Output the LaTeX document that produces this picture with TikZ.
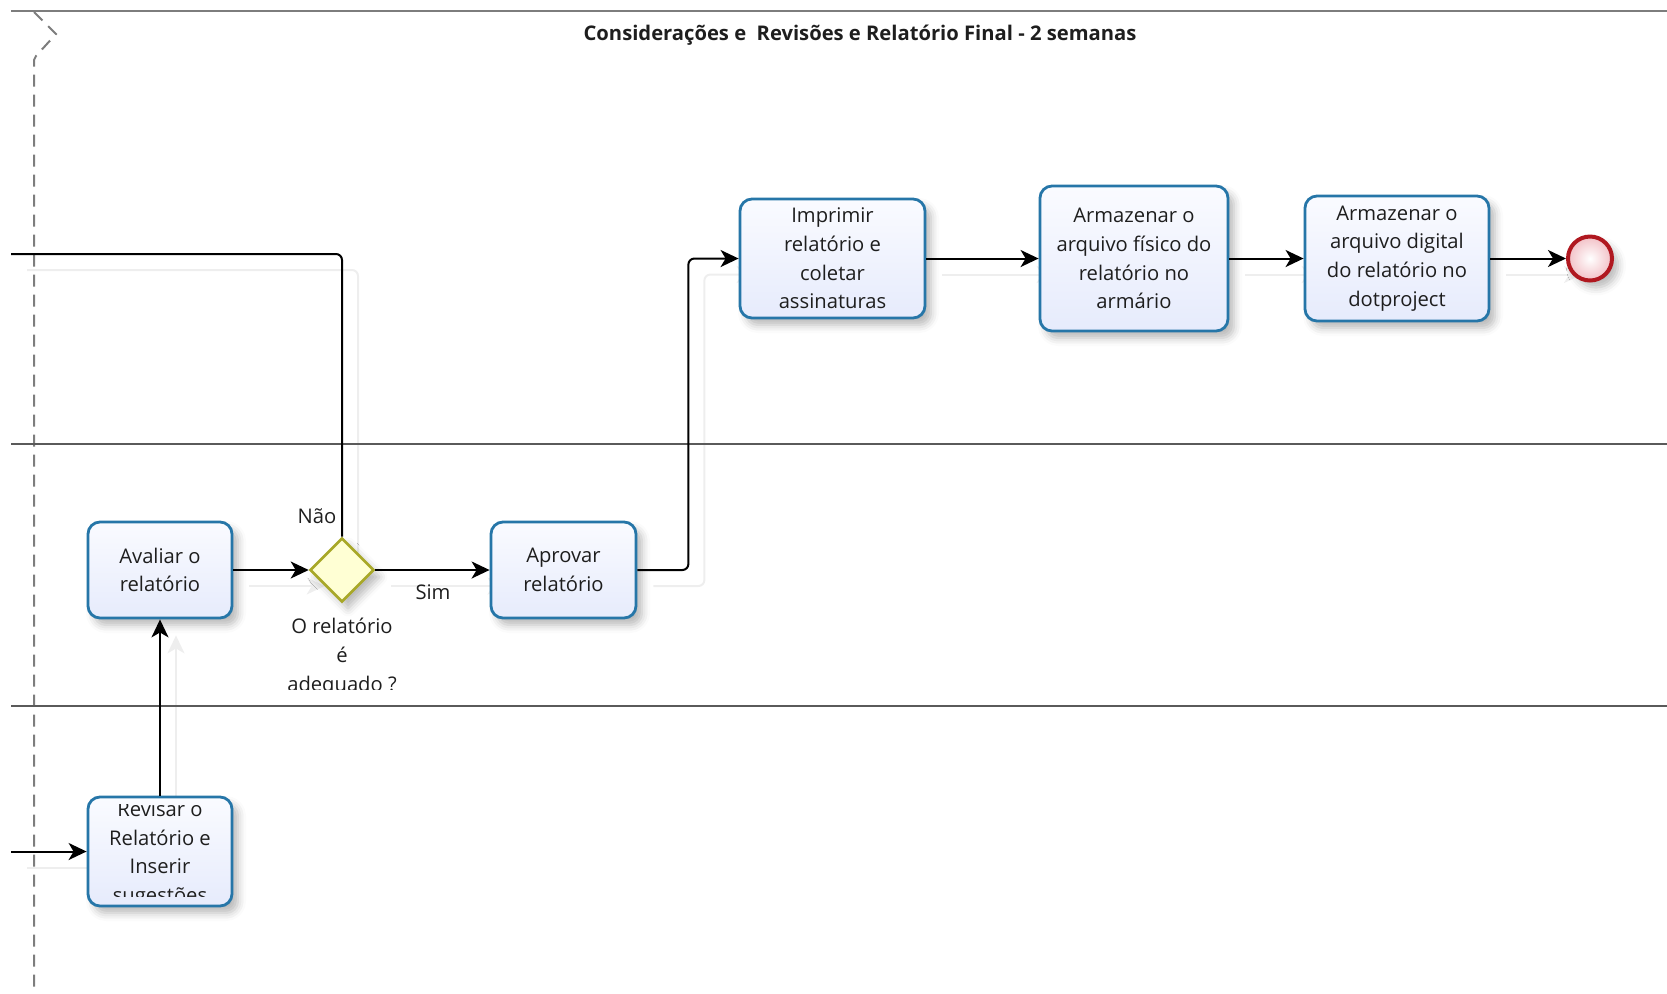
\documentclass[tikz,border=0pt]{standalone}
\usepackage{fontspec}
\setmainfont{Open Sans}
\usetikzlibrary{shapes.geometric,arrows.meta,shadows.blur,backgrounds}

\definecolor{taskborder}{RGB}{38,118,168}
\definecolor{tasktop}{RGB}{250,251,255}
\definecolor{taskbot}{RGB}{230,235,252}
\definecolor{gwborder}{RGB}{168,168,40}
\definecolor{gwfill}{RGB}{255,255,212}
\definecolor{endborder}{RGB}{176,24,32}
\definecolor{endfill}{RGB}{242,192,198}
\definecolor{laneline}{RGB}{90,90,90}
\definecolor{poolline}{RGB}{125,125,125}
\definecolor{txt}{RGB}{30,30,30}
\definecolor{ghost}{RGB}{238,238,238}

\tikzset{
  every node/.style={font=\fontsize{10.1}{14.35}\selectfont, text=txt},
  boxshadow/.style={blur shadow={shadow xshift=3pt, shadow yshift=-3.5pt,
      shadow blur radius=4pt, shadow opacity=28}},
  task/.style={draw=taskborder, line width=1.4pt, rounded corners=6pt,
      top color=tasktop, bottom color=taskbot, align=center, inner sep=0pt,
      boxshadow},
  gateway/.style={diamond, aspect=1, draw=gwborder, line width=1.3pt,
      fill=gwfill, minimum size=32pt, inner sep=0pt, boxshadow},
  endev/.style={circle, draw=endborder, line width=2pt, inner color=white,
      outer color=endfill, minimum size=22pt, inner sep=0pt, boxshadow},
  tip/.style={-{Stealth[length=9pt,width=8.5pt,inset=2.5pt]}},
  conn/.style={draw=black, line width=1pt, tip, rounded corners=3pt},
  ghostconn/.style={draw=ghost, line width=1pt, tip, rounded corners=3pt},
  lbl/.style={align=center, inner sep=0pt},
}

\begin{document}
\begin{tikzpicture}[x=0.5pt,y=-0.5pt]
\useasboundingbox (0,0) rectangle (1667,993);

% pool border and dashed pool header
\draw[poolline, line width=1pt] (11,11) -- (1667,11);
\draw[poolline, line width=1pt, dash pattern=on 6pt off 4pt]
  (34,12) -- (56,34) -- (36,56) -- (34,60) -- (34,993);

% lane separators
\draw[laneline, line width=0.6pt] (11,444) -- (1667,444);
\draw[laneline, line width=0.6pt] (11,706) -- (1667,706);

% title
\node[font=\bfseries\fontsize{10.1}{12}\selectfont] (title) at (860,35)
  {Considerações e~ Revisões e Relatório Final - 2 semanas};

% tasks and events
\node[task, minimum width=72pt, minimum height=48pt] (avaliar) at (160,570)
  {Avaliar o\\relatório};
\node[gateway] (gw) at (342,570) {};
\node[task, minimum width=72.5pt, minimum height=48pt] (aprovar) at (563.5,570)
  {Aprovar\\relatório};
\node[task, minimum width=92.5pt, minimum height=59.5pt] (imprimir) at (832.5,258.5)
  {Imprimir\\relatório e\\coletar\\assinaturas};
\node[task, minimum width=94pt, minimum height=72.5pt] (fisico) at (1134,258.5)
  {Armazenar o\\arquivo físico do\\relatório no\\armário};
\node[task, minimum width=92pt, minimum height=62.5pt] (digital) at (1397,258.5)
  {Armazenar o\\arquivo digital\\do relatório no\\dotproject};
\node[endev] (fim) at (1590,258.5) {};
\node[task, minimum width=72pt, minimum height=54.5pt] (revisar) at (160,851.5) {};
\begin{scope}
  \clip (93,804) rectangle (227,896);
  \node[lbl] (revisartxt) at ([yshift=-1.5pt]revisar.center)
    {Revisar o\\Relatório e\\Inserir\\sugestões};
\end{scope}

% flows leaving and entering the picture on the left
\coordinate (inTop) at (11,254);
\coordinate (inRev) at (11,851.5);

% sequence flows
\draw[conn, -] (inTop) -- (inTop -| gw.north) -- (gw.north);
\draw[conn] (avaliar) -- (gw);
\draw[conn] (gw) -- (aprovar);
\draw[conn] (aprovar.east) -- ++(51,0) |- (imprimir.west);
\draw[conn] (imprimir) -- (fisico);
\draw[conn] (fisico) -- (digital);
\draw[conn] (digital) -- (fim);
\draw[conn] (revisar) -- (avaliar);
\draw[conn] (inRev) -- (revisar.west);

% faint shadows of the flows
\begin{scope}[on background layer]
  \draw[ghostconn, -] ([shift={(16,16)}]inTop) -- ([shift={(16,16)}]inTop -| gw.north) -- ([shift={(16,16)}]gw.north);
  \draw[ghostconn] ([shift={(16,16)}]avaliar.east) -- ([shift={(16,16)}]gw.west);
  \draw[ghostconn] ([shift={(16,16)}]gw.east) -- ([shift={(16,16)}]aprovar.west);
  \draw[ghostconn] ([shift={(16,16)}]aprovar.east) -- ++(51,0) |- ([shift={(16,16)}]imprimir.west);
  \draw[ghostconn] ([shift={(16,16)}]imprimir.east) -- ([shift={(16,16)}]fisico.west);
  \draw[ghostconn] ([shift={(16,16)}]fisico.east) -- ([shift={(16,16)}]digital.west);
  \draw[ghostconn] ([shift={(16,16)}]digital.east) -- ([shift={(16,16)}]fim.west);
  \draw[ghostconn] ([shift={(16,16)}]revisar.north) -- ([shift={(16,16)}]avaliar.south);
  \draw[ghostconn, -] ([shift={(16,16)}]inRev) -- ([shift={(16,16)}]revisar.west);
\end{scope}

% gateway labels
\node[lbl] (nao) at (317,516) {Não};
\node[lbl] (sim) at (433,592) {Sim};
\begin{scope}
  \clip (250,600) rectangle (440,689);
  \node[lbl] (gwlabel) at (342,657) {O relatório\\é\\adequado ?};
\end{scope}
\end{tikzpicture}
\end{document}
